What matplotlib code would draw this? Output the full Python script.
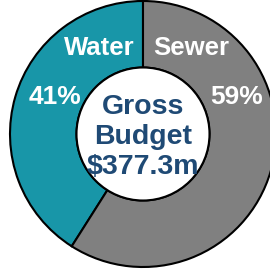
import matplotlib.pyplot as plt

# --- DATA ---
segments = ['Water', 'Sewer']
shares = [41, 59]
colors = ['#1896A8', '#808080']
center_lines = ['Gross', 'Budget', '$377.3m']

plt.rcParams['font.family'] = ['Liberation Sans', 'DejaVu Sans']

fig = plt.figure(figsize=(2.70, 2.69), dpi=100)
fig.patch.set_facecolor('white')
# circle centre at about (143, 134) px, radius 133 px
ax = fig.add_axes([10 / 270, 2 / 269, 266 / 270, 266 / 269])

wedges, _ = ax.pie(shares, colors=colors, startangle=90, counterclock=True,
                   radius=1.0,
                   wedgeprops=dict(width=0.5, edgecolor='black', linewidth=1.5))
# inner rim
ax.add_patch(plt.Circle((0, 0), 0.5, facecolor='white', edgecolor='black', linewidth=1.5))

ax.set_xlim(-1, 1)
ax.set_ylim(-1, 1)
ax.set_aspect('equal')
ax.axis('off')

# segment names and percentages
name_pos = [(-0.33, 0.65), (0.36, 0.65)]
pct_pos = [(-0.66, 0.28), (0.70, 0.28)]
for name, val, (nx, ny), (px, py) in zip(segments, shares, name_pos, pct_pos):
    ax.text(nx, ny, name, ha='center', va='center', color='white',
            fontsize=18.5, fontweight='bold')
    ax.text(px, py, f'{val}%', ha='center', va='center', color='white',
            fontsize=19, fontweight='bold')

ax.text(0, -0.02, '\n'.join(center_lines), ha='center', va='center',
        color='#1F4A75', fontsize=20.5, fontweight='bold', linespacing=1.2)

fig.savefig('out.png', dpi=100, facecolor='white')
